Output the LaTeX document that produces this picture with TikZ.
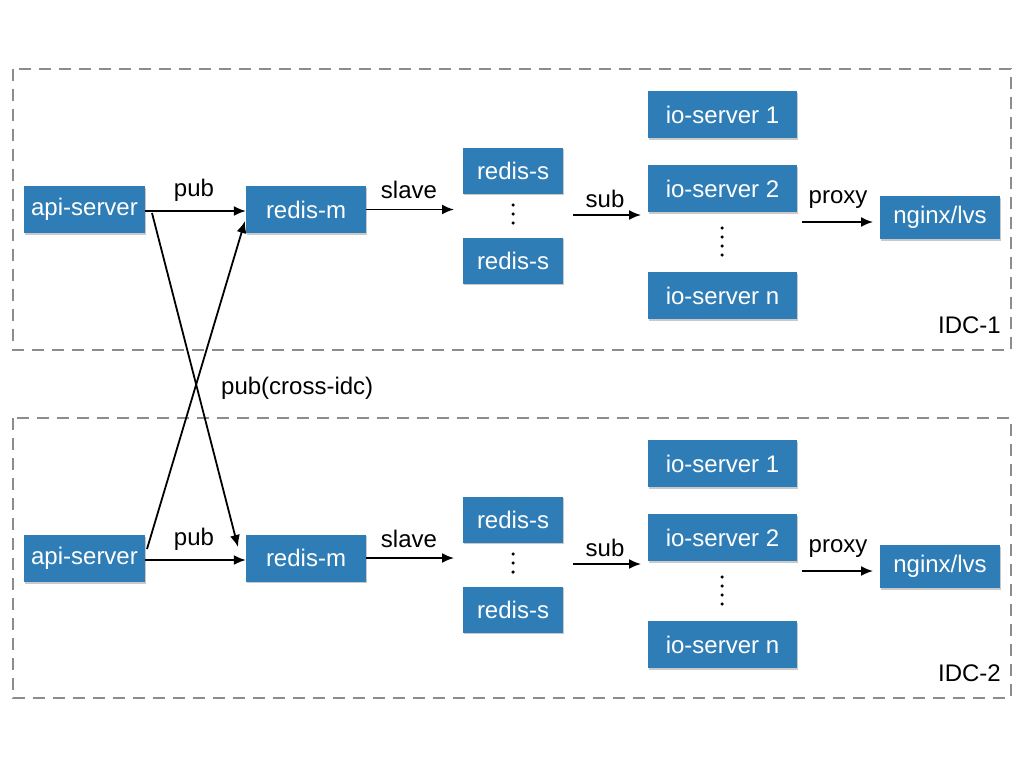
\documentclass[tikz,border=0pt]{standalone}
\usepackage{fontspec}
\setmainfont{Liberation Sans}
\usetikzlibrary{arrows.meta,shadows}
\definecolor{boxblue}{RGB}{47,125,182}
\definecolor{dashgray}{RGB}{140,140,140}
\tikzset{
  srv/.style={draw=none,fill=boxblue,text=white,font=\fontsize{24}{28}\selectfont,
    minimum height=47pt,inner sep=0pt,
    drop shadow={shadow xshift=1pt,shadow yshift=-1.5pt,opacity=0.35,fill=black!60}},
  lbl/.style={font=\fontsize{24}{28}\selectfont,text=black,inner sep=0pt},
  idc/.style={draw=dashgray,line width=1.8pt,dash pattern=on 12pt off 8pt},
  arr/.style={line width=1.8pt,-{Latex[length=12pt,width=10pt]}},
  dot/.style={circle,fill=black,inner sep=0pt,minimum size=3.5pt}
}
\begin{document}
\begin{tikzpicture}[x=1pt,y=-1pt]
\useasboundingbox (0,0) rectangle (1024,768);
\fill[white] (0,0) rectangle (1024,768);
% IDC boxes
\draw[idc] (13,69) rectangle (1011,350);
\draw[idc] (13,418) rectangle (1011,698);
\node[lbl,anchor=east] (idc1) at (1001,325) {IDC-1};
\node[lbl,anchor=east] (idc2) at (1001,673) {IDC-2};

% ---------- IDC-1 ----------
\node[srv,minimum width=121pt] (api1) at (84.5,209.5) {api-server};
\node[srv,minimum width=120pt] (rm1) at (306,209.5) {redis-m};
\node[srv,minimum width=100pt,minimum height=46pt] (rsa1) at (513,170.5) {redis-s};
\node[srv,minimum width=100pt,minimum height=46pt] (rsb1) at (513,260.5) {redis-s};
\node[srv,minimum width=149pt] (ioa1) at (722.5,114.5) {io-server 1};
\node[srv,minimum width=149pt] (iob1) at (722.5,188.5) {io-server 2};
\node[srv,minimum width=149pt] (ion1) at (722.5,295.5) {io-server n};
\node[srv,minimum width=120pt,minimum height=43pt] (ng1) at (940,217.5) {nginx/lvs};
\node[dot] (d11) at (513,205) {};
\node[dot] (d12) at (513,214) {};
\node[dot] (d13) at (513,223) {};
\node[dot] (e11) at (722,228) {};
\node[dot] (e12) at (722,237) {};
\node[dot] (e13) at (722,246) {};
\node[dot] (e14) at (722,255) {};

\coordinate (slaveE1) at (454,209.5);
\coordinate (subS1) at (573,215);
\coordinate (subE1) at (641,215);
\coordinate (prS1) at (802,222);
\coordinate (prE1) at (873,222);
\draw[arr] (api1.east |- 0,211) -- (rm1.west |- 0,211);
\draw[arr] (rm1.east) -- (slaveE1);
\draw[arr] (subS1) -- (subE1);
\draw[arr] (prS1) -- (prE1);
\node[lbl] (pub1) at (194,190) {pub};
\node[lbl] (slave1) at (409,190) {slave};
\node[lbl] (sub1) at (605,199) {sub};
\node[lbl] (proxy1) at (838,200) {proxy};

% ---------- IDC-2 ----------
\node[srv,minimum width=121pt] (api2) at (84.5,558.5) {api-server};
\node[srv,minimum width=120pt] (rm2) at (306,558) {redis-m};
\node[srv,minimum width=100pt,minimum height=46pt] (rsa2) at (513,519.5) {redis-s};
\node[srv,minimum width=100pt,minimum height=46pt] (rsb2) at (513,609.5) {redis-s};
\node[srv,minimum width=149pt] (ioa2) at (722.5,463.5) {io-server 1};
\node[srv,minimum width=149pt] (iob2) at (722.5,537.5) {io-server 2};
\node[srv,minimum width=149pt] (ion2) at (722.5,644.5) {io-server n};
\node[srv,minimum width=120pt,minimum height=43pt] (ng2) at (940,566.5) {nginx/lvs};
\node[dot] (d21) at (513,554) {};
\node[dot] (d22) at (513,563) {};
\node[dot] (d23) at (513,572) {};
\node[dot] (e21) at (722,577) {};
\node[dot] (e22) at (722,586) {};
\node[dot] (e23) at (722,595) {};
\node[dot] (e24) at (722,604) {};

\coordinate (slaveE2) at (454,558);
\coordinate (subS2) at (573,564);
\coordinate (subE2) at (641,564);
\coordinate (prS2) at (802,571);
\coordinate (prE2) at (873,571);
\draw[arr] (api2.east |- 0,560) -- (rm2.west |- 0,560);
\draw[arr] (rm2.east) -- (slaveE2);
\draw[arr] (subS2) -- (subE2);
\draw[arr] (prS2) -- (prE2);
\node[lbl] (pub2) at (194,539) {pub};
\node[lbl] (slave2) at (409,539) {slave};
\node[lbl] (sub2) at (605,548) {sub};
\node[lbl] (proxy2) at (838,549) {proxy};

% ---------- cross-idc ----------
\coordinate (xa1) at (152,213);
\coordinate (xb2) at (238,547);
\coordinate (xa2) at (147,549);
\coordinate (xb1) at (245,221);
\draw[arr] (xa1) -- (xb2);
\draw[arr] (xa2) -- (xb1);
\node[lbl,anchor=west] (cross) at (221,388) {pub(cross-idc)};
\end{tikzpicture}
\end{document}
